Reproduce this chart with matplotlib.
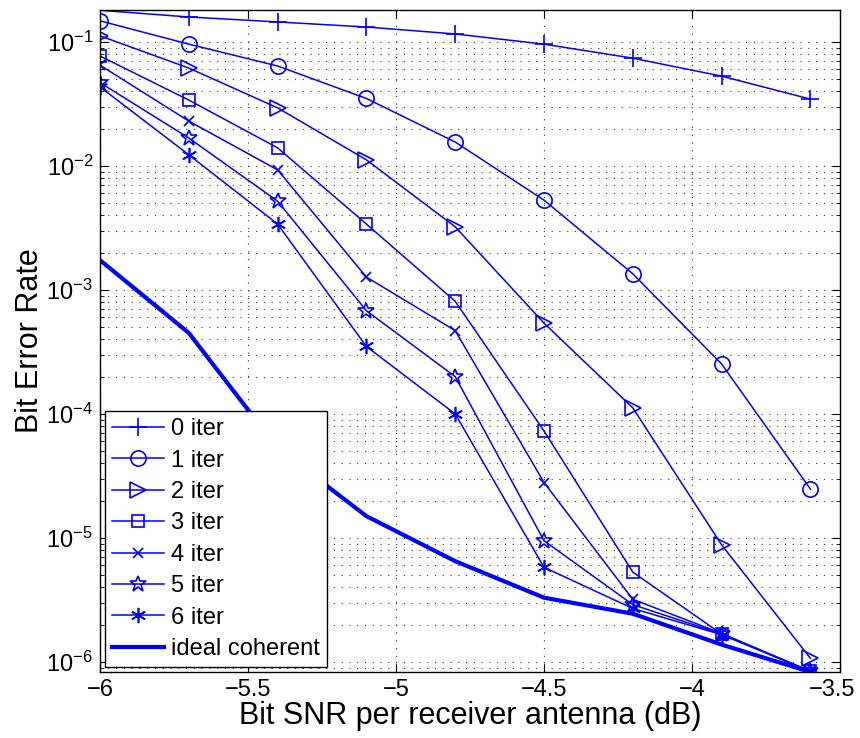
import numpy as np
import matplotlib
matplotlib.use("Agg")
import matplotlib.pyplot as plt
import matplotlib.transforms as mtransforms
from matplotlib.ticker import LogLocator, NullFormatter, FixedLocator

plt.rcParams['font.family'] = ['Liberation Sans', 'DejaVu Sans']
plt.rcParams['mathtext.fontset'] = 'custom'
plt.rcParams['mathtext.rm'] = 'Liberation Sans'

# SNR points (dB)
snr = [-6.0, -5.7, -5.4, -5.1, -4.8, -4.5, -4.2, -3.9, -3.6]

# BER per number of iterations
ber_iter0 = [0.18, 0.159, 0.145, 0.132, 0.116, 0.096, 0.074, 0.053, 0.0346]
ber_iter1 = [0.148, 0.096, 0.064, 0.035, 0.0156, 0.0053, 0.00135, 2.53e-4, 2.48e-5]
ber_iter2 = [0.112, 0.0616, 0.0294, 0.0112, 0.00323, 5.4e-4, 1.12e-4, 8.8e-6, 1.07e-6]
ber_iter3 = [0.077, 0.034, 0.014, 0.0034, 8.1e-4, 7.3e-5, 5.3e-6, 1.68e-6, 8.4e-7]
ber_iter4 = [0.065, 0.023, 0.0093, 1.27e-3, 4.7e-4, 2.8e-5, 3.2e-6, 1.7e-6, 8.4e-7]
ber_iter5 = [0.047, 0.0168, 0.0052, 6.8e-4, 2.0e-4, 9.5e-6, 2.9e-6, 1.68e-6, 8.4e-7]
ber_iter6 = [0.0434, 0.0123, 0.0034, 3.5e-4, 1.0e-4, 5.8e-6, 2.7e-6, 1.66e-6, 8.4e-7]
ber_ideal = [1.74e-3, 4.5e-4, 5.3e-5, 1.5e-5, 6.5e-6, 3.3e-6, 2.45e-6, 1.38e-6, 8.3e-7]

labels = ['0 iter', '1 iter', '2 iter', '3 iter', '4 iter', '5 iter', '6 iter']
markers = ['+', 'o', '>', 's', 'x', '*', (6, 2, 0)]
sizes = [13, 11, 11, 8, 7, 12, 11]
series = [ber_iter0, ber_iter1, ber_iter2, ber_iter3, ber_iter4, ber_iter5, ber_iter6]

fig = plt.figure(figsize=(8.6, 7.38), dpi=100)
ax = fig.add_axes([100/860, 1 - 672/738, 740/860, 662/738])

blue = '#0000ff'
for y, lab, m, ms in zip(series, labels, markers, sizes):
    ax.semilogy(snr, y, color=blue, lw=1.1, marker=m, ms=ms, mfc='none',
                mec=blue, mew=1.2, label=lab)
ax.semilogy(snr, ber_ideal, color=blue, lw=3, label='ideal coherent')

ax.set_xlim(-6, -3.5)
ax.set_ylim(8.3e-7, 0.181)
ax.xaxis.set_major_locator(FixedLocator([-6, -5.5, -5, -4.5, -4, -3.5]))
ax.set_xticklabels(['\u22126', '\u22125.5', '\u22125', '\u22124.5', '\u22124', '\u22123.5'])
ax.yaxis.set_major_locator(LogLocator(base=10, numticks=12))
ax.yaxis.set_minor_locator(LogLocator(base=10, subs=np.arange(2, 10), numticks=12))
ax.yaxis.set_minor_formatter(NullFormatter())

ax.grid(True, which='major', axis='both', color='#333333', linestyle=(0, (1, 6)), lw=0.8)
ax.grid(True, which='minor', axis='y', color='#333333', linestyle=(0, (1, 6)), lw=0.8)

ax.tick_params(which='both', direction='in', top=True, right=True, labelsize=17)
ax.tick_params(which='major', length=6, pad=5)
ax.tick_params(which='minor', length=3)
for s in ax.spines.values():
    s.set_linewidth(1.0)

# keep the last x tick label inside the figure
last = ax.get_xticklabels()[-1]
last.set_transform(last.get_transform() +
                   mtransforms.ScaledTranslation(-8/100, 0, fig.dpi_scale_trans))

ax.set_xlabel('Bit SNR per receiver antenna (dB)', fontsize=22, labelpad=0)
ax.set_ylabel('Bit Error Rate', fontsize=22, labelpad=1)

leg = ax.legend(loc='lower left', fontsize=17, fancybox=False, framealpha=1,
                edgecolor='black', borderaxespad=0.2, handlelength=2.2,
                handletextpad=0.3, labelspacing=0.4, borderpad=0.3)
leg.get_frame().set_linewidth(1.0)

fig.savefig('out.png', dpi=100)
